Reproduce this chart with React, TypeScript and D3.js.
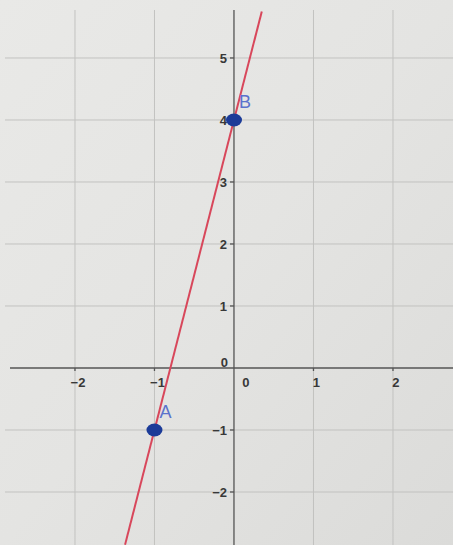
import React from "react";
import * as d3 from "d3";

const width = 453;
const height = 545;

// integer ticks on each axis
const xTicks = [-2, -1, 0, 1, 2];
const yTicks = [-2, -1, 0, 1, 2, 3, 4, 5];
const xGrid = [-2, -1, 1, 2];
const yGrid = [-2, -1, 1, 2, 3, 4, 5];

// the two points the line goes through
const pointNames = ["A", "B"];
const pointX = [-1, 0];
const pointY = [-1, 4];

// how far the drawn line runs in y
const lineYExtent = [-2.85, 5.75];

const x = d3.scaleLinear().domain([-2.943, 2.755]).range([0, width]);
const y = d3.scaleLinear().domain([5.935, -2.855]).range([0, height]);

const fmt = (v: number) => (v < 0 ? "\u2212" + Math.abs(v) : String(v));

const App = () => {
  // line through A and B, extended to the edges
  const slope = (pointY[1] - pointY[0]) / (pointX[1] - pointX[0]);
  const xAt = (yy: number) => pointX[0] + (yy - pointY[0]) / slope;
  const lineData: [number, number][] = lineYExtent.map((yy) => [xAt(yy), yy]);
  const line = d3
    .line<[number, number]>()
    .x((d) => x(d[0]))
    .y((d) => y(d[1]));

  const font = "'Liberation Sans', Arial, sans-serif";

  return (
    <svg
      width={width}
      height={height}
      style={{ position: "fixed", top: 0, left: 0 }}
      fontFamily={font}
    >
      <defs>
        <linearGradient id="paper" x1="0" y1="0" x2="1" y2="1">
          <stop offset="0" stopColor="#e9e9e7" />
          <stop offset="0.5" stopColor="#e4e4e2" />
          <stop offset="1" stopColor="#dbdbd9" />
        </linearGradient>
      </defs>
      <rect width={width} height={height} fill="url(#paper)" />

      {/* grid */}
      <g stroke="#c2c2c0" strokeWidth={1}>
        {xGrid.map((v) => (
          <line key={"gx" + v} x1={x(v)} x2={x(v)} y1={10} y2={height} />
        ))}
        {yGrid.map((v) => (
          <line key={"gy" + v} x1={5} x2={width} y1={y(v)} y2={y(v)} />
        ))}
      </g>

      {/* axes */}
      <g stroke="#555" strokeWidth={1.3}>
        <line x1={10} x2={width} y1={y(0)} y2={y(0)} />
        <line x1={x(0)} x2={x(0)} y1={10} y2={height} />
        {xTicks
          .filter((v) => v !== 0)
          .map((v) => (
            <line key={"tx" + v} x1={x(v)} x2={x(v)} y1={y(0)} y2={y(0) + 3} />
          ))}
        {yTicks
          .filter((v) => v !== 0)
          .map((v) => (
            <line key={"ty" + v} x1={x(0) - 4} x2={x(0)} y1={y(v)} y2={y(v)} />
          ))}
      </g>

      {/* tick labels */}
      <g fill="#383838" fontSize={13} fontWeight={600}>
        {xTicks
          .filter((v) => v !== 0)
          .map((v) => (
            <text key={"lx" + v} x={x(v) + 3} y={y(0) + 19} textAnchor="middle">
              {fmt(v)}
            </text>
          ))}
        <text x={x(0) + 12} y={y(0) + 19} textAnchor="middle">
          0
        </text>
        {yTicks.map((v) => (
          <text
            key={"ly" + v}
            x={x(0) - (v === 0 ? 6 : 7)}
            y={y(v) + (v === 0 ? -1 : 5)}
            textAnchor="end"
          >
            {fmt(v)}
          </text>
        ))}
      </g>

      {/* line AB */}
      <path d={line(lineData) ?? ""} fill="none" stroke="#d8475b" strokeWidth={2} />

      {/* points */}
      {pointNames.map((name, i) => (
        <g key={name}>
          <ellipse
            cx={x(pointX[i])}
            cy={y(pointY[i])}
            rx={8}
            ry={6.5}
            fill="#1c3b98"
          />
          <text
            x={x(pointX[i]) + 5}
            y={y(pointY[i]) - 12}
            fontSize={18}
            fill="#5b72cc"
          >
            {name}
          </text>
        </g>
      ))}
    </svg>
  );
};

export default App;
